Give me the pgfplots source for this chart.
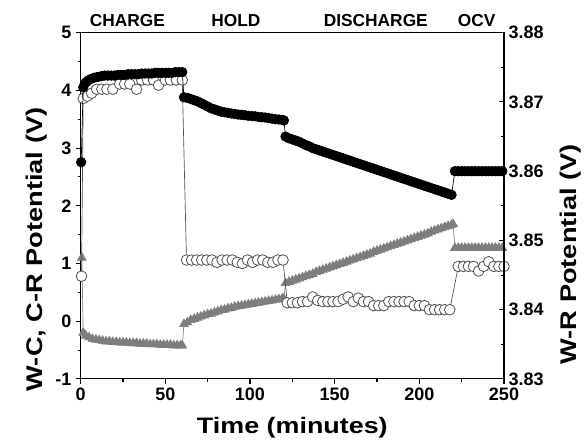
\documentclass[border=0pt]{standalone}
\usepackage{fontspec}
\setmainfont{Liberation Sans}
\newfontfamily\labelfont[FakeStretch=1.2]{Liberation Sans}
\usepackage{pgfplots}
\pgfplotsset{compat=1.18}
\definecolor{trigray}{RGB}{125,125,125}
\definecolor{circgray}{RGB}{80,80,80}
\begin{document}
\begin{tikzpicture}
\begin{axis}[
  width=317.5pt, height=259.7pt, scale only axis,
  clip mode=individual,
  xmin=0, xmax=250, ymin=-1, ymax=5,
  xtick={0,50,...,250}, ytick={-1,0,...,5},
  minor x tick num=1, minor y tick num=1,
  xtick pos=bottom, ytick pos=left, tick align=outside,
  major tick length=3.5pt, minor tick length=2.2pt,
  tick style={black, line width=0.8pt},
  axis line style={line width=0.8pt},
  ticklabel style={font=\bfseries\fontsize{13.5}{14}\selectfont},
  /pgf/number format/assume math mode=true,
  xlabel={Time (minutes)},
  ylabel={W-C, C-R Potential (V)},
  xlabel style={font=\labelfont\bfseries\fontsize{16.8}{18}\selectfont,
    at={(axis description cs:0.5,0)}, anchor=base, yshift=-41.3pt},
  ylabel style={font=\labelfont\bfseries\fontsize{17}{18}\selectfont,
    at={(axis description cs:-0.089,0.374)}, anchor=base},
]
% triangles (C-R)
\addplot[color=trigray, line width=0.5pt, mark=triangle*, mark size=3.8pt,
  mark options={fill=trigray, draw=trigray}] coordinates {
(0.7,1.1) (1.5,-0.2) (3,-0.25) (5,-0.28) (7,-0.31) (9,-0.32) (11,-0.33) (13,-0.34)
(15,-0.35) (17,-0.35) (19,-0.36) (21,-0.36) (23,-0.37) (25,-0.37) (27,-0.37) (29,-0.38)
(31,-0.38) (33,-0.38) (35,-0.39) (37,-0.39) (39,-0.39) (41,-0.40) (43,-0.40) (45,-0.40)
(47,-0.41) (49,-0.41) (51,-0.41) (53,-0.41) (55,-0.42) (57,-0.42) (59,-0.42) (60,-0.42)
(61,-0.05) (63,-0.02) (65,0.02) (67,0.04) (69,0.06) (71,0.08) (73,0.10) (75,0.12)
(77,0.13) (79,0.15) (81,0.17) (83,0.19) (85,0.20) (87,0.22) (89,0.23) (91,0.25)
(93,0.26) (95,0.27) (97,0.28) (99,0.29) (101,0.30) (103,0.31) (105,0.32) (107,0.33)
(109,0.34) (111,0.35) (113,0.36) (115,0.37) (117,0.38) (119,0.39) (120,0.39)
(121,0.66) (123,0.68) (125,0.70) (127,0.72) (129,0.74) (131,0.76) (133,0.78) (135,0.80)
(137,0.82) (139,0.85) (141,0.87) (143,0.89) (145,0.91) (147,0.93) (149,0.95) (151,0.97)
(153,0.99) (155,1.01) (157,1.03) (159,1.05) (161,1.07) (163,1.09) (165,1.11) (167,1.13)
(169,1.15) (171,1.17) (173,1.20) (175,1.22) (177,1.24) (179,1.26) (181,1.28) (183,1.30)
(185,1.32) (187,1.34) (189,1.36) (191,1.38) (193,1.40) (195,1.42) (197,1.44) (199,1.46)
(201,1.48) (203,1.50) (205,1.52) (207,1.55) (209,1.57) (211,1.59) (213,1.61) (215,1.63)
(217,1.65) (219,1.67) (220,1.68)
(221,1.27) (223,1.27) (225,1.27) (227,1.27) (229,1.27) (231,1.27) (233,1.27) (235,1.27)
(237,1.27) (239,1.27) (241,1.27) (243,1.27) (245,1.27) (247,1.27) (249,1.27)
};
% open circles (W-C)
\addplot[color=circgray, line width=0.5pt, mark=*, mark size=4pt,
  mark options={fill=white, draw=circgray, line width=0.6pt}] coordinates {
(0.5,0.78) (1.5,3.86) (4,3.90) (6.5,3.95) (9.5,4.02) (12.5,4.02) (15.5,4.02) (19,4.02)
(23,4.11) (26,4.11) (29,4.11) (33,4.02) (36,4.18) (39.5,4.18) (43,4.18) (46,4.09)
(50,4.18) (53,4.18) (56.5,4.18) (60,4.18)
(62.5,1.06) (65.5,1.06) (68.5,1.06) (71.5,1.06) (74.5,1.06) (77.5,1.06) (80.5,1.02)
(83.5,1.06) (86.5,1.06) (89.5,1.06) (92.5,1.02) (95.5,1.00) (98.5,1.06) (101.5,1.02)
(104.5,1.06) (107.5,1.06) (110.5,1.02) (113.5,1.02) (116.5,1.06) (119.5,1.06)
(122,0.32) (125,0.32) (128,0.32) (131,0.34) (134,0.34) (137,0.42) (140,0.36) (143,0.34)
(146,0.34) (149,0.34) (152,0.34) (155,0.38) (158,0.42) (161,0.34) (164,0.40) (167,0.34)
(170,0.34) (173,0.27) (176,0.27) (179,0.27) (182,0.34) (185,0.34) (188,0.34) (191,0.34)
(194,0.34) (197,0.27) (200,0.27) (203,0.27) (206,0.20) (209,0.20) (212,0.20) (215,0.20)
(218,0.20)
(223,0.95) (226,0.95) (229,0.95) (232,0.95) (235,0.87) (238,0.95) (241,1.03) (244,0.95)
(247,0.95) (250,0.95)
};
\node[font=\bfseries\fontsize{13}{14}\selectfont, anchor=base, yshift=4.5pt] at (axis cs:27.6,5) {CHARGE};
\node[font=\bfseries\fontsize{13}{14}\selectfont, anchor=base, yshift=4.5pt] at (axis cs:91.7,5) {HOLD};
\node[font=\bfseries\fontsize{13}{14}\selectfont, anchor=base, yshift=4.5pt] at (axis cs:174.3,5) {DISCHARGE};
\node[font=\bfseries\fontsize{13}{14}\selectfont, anchor=base, yshift=4.5pt] at (axis cs:233.9,5) {OCV};
\end{axis}
\begin{axis}[
  width=317.5pt, height=259.7pt, scale only axis,
  xmin=0, xmax=250, ymin=3.83, ymax=3.88,
  axis x line=none, axis y line*=right,
  ytick={3.83,3.84,3.85,3.86,3.87,3.88},
  minor y tick num=1, tick align=inside,
  major tick length=3.5pt, minor tick length=2.2pt,
  tick style={black, line width=0.8pt},
  axis line style={line width=0.8pt},
  ticklabel style={font=\bfseries\fontsize{13.5}{14}\selectfont},
  /pgf/number format/assume math mode=true,
  yticklabel style={/pgf/number format/fixed, /pgf/number format/precision=2, /pgf/number format/fixed zerofill},
  ylabel={W-R Potential (V)},
  ylabel style={font=\labelfont\bfseries\fontsize{17}{18}\selectfont,
    at={(axis description cs:1.172,0.36)}, anchor=base},
]
\addplot[color=black, line width=0.5pt, mark=*, mark size=3.6pt,
  mark options={fill=black, draw=black}] coordinates {
(0.3,3.8613) (1.5,3.8721) (3,3.8728) (4.5,3.8731) (6,3.8733) (8,3.8735) (10,3.8736) (12,3.8737)
(14,3.8738) (16,3.8738) (18,3.8738) (20,3.8738) (22,3.8739) (24,3.8739) (26,3.8739) (28,3.8740)
(30,3.8740) (32,3.8740) (34,3.8740) (36,3.8741) (38,3.8741) (40,3.8741) (42,3.8741) (44,3.8742)
(46,3.8742) (48,3.8742) (50,3.8742) (52,3.8742) (54,3.8742) (56,3.8743) (58,3.8743) (60,3.8743)
(61,3.87067) (63,3.87058) (65,3.87042) (67,3.87025) (69,3.87008) (71,3.86983) (73,3.86958)
(75,3.86933) (77,3.86908) (79,3.86892) (81,3.86875) (83,3.86858) (85,3.8685) (87,3.86842)
(89,3.86833) (91,3.86825) (93,3.86817) (95,3.86813) (97,3.86808) (99,3.868) (101,3.86796)
(103,3.86792) (105,3.86783) (107,3.86779) (109,3.86775) (111,3.86767) (113,3.86758)
(115,3.8675) (117,3.86746) (119,3.86742) (120,3.86733)
(121,3.865) (123,3.86475) (125,3.86458) (127,3.86442) (129,3.86425) (131,3.864) (133,3.86375)
(135,3.86358) (137,3.86333) (139,3.86317) (141,3.863) (143,3.86284) (145,3.86267) (147,3.86251)
(149,3.86234) (151,3.86218) (153,3.86201) (155,3.86185) (157,3.86168) (159,3.86152) (161,3.86135)
(163,3.86119) (165,3.86102) (167,3.86086) (169,3.86069) (171,3.86053) (173,3.86037) (175,3.8602)
(177,3.86004) (179,3.85987) (181,3.85971) (183,3.85954) (185,3.85938) (187,3.85921) (189,3.85905)
(191,3.85888) (193,3.85872) (195,3.85855) (197,3.85839) (199,3.85822) (201,3.85806) (203,3.85789)
(205,3.85773) (207,3.85756) (209,3.8574) (211,3.85724) (213,3.85707) (215,3.85691) (217,3.85674)
(219,3.85658)
(221,3.8600) (223,3.8600) (225,3.8600) (227,3.8600) (229,3.8600) (231,3.8600) (233,3.8600)
(235,3.8600) (237,3.8600) (239,3.8600) (241,3.8600) (243,3.8600) (245,3.8600) (247,3.8600)
(249,3.8600)
};
\end{axis}
\pgfresetboundingbox
\path ([shift={(-60.5pt,-46.5pt)}]current axis.south west) rectangle ([shift={(60.75pt,24.5pt)}]current axis.north east);
\end{tikzpicture}
\end{document}
